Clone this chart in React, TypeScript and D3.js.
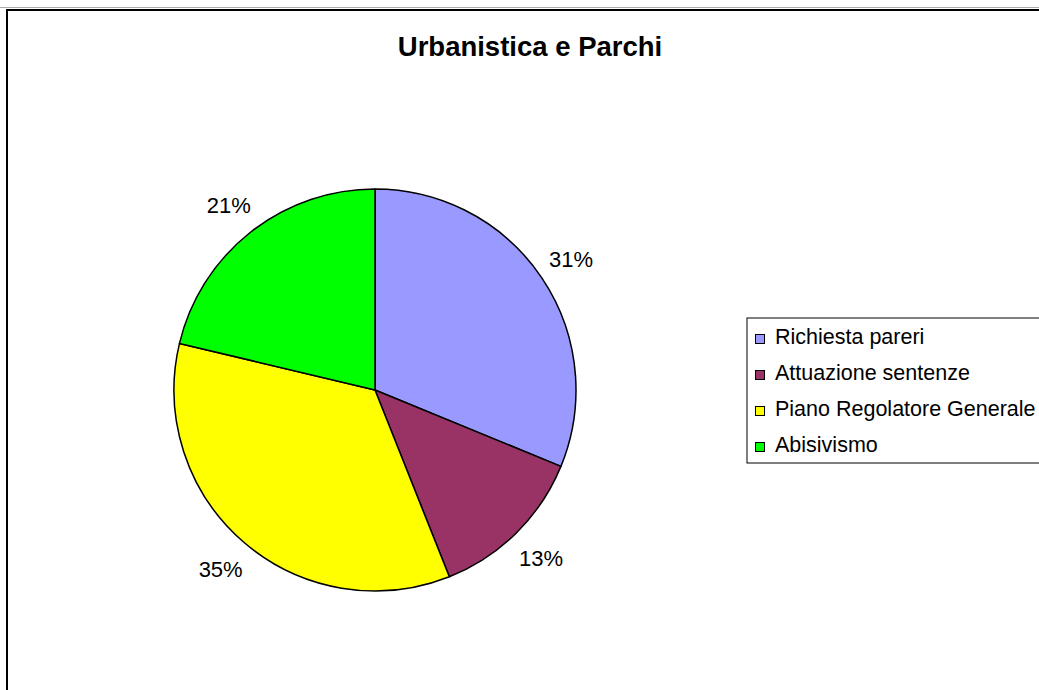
import React from "react";
import * as d3 from "d3";

const categories = ["Richiesta pareri", "Attuazione sentenze", "Piano Regolatore Generale", "Abisivismo"];
const values = [44, 18, 49, 30];
const colors = ["#9999FF", "#993366", "#FFFF00", "#00FF00"];
const title = "Urbanistica e Parchi";

export default function App() {
  const W = 1039, H = 690;
  const cx = 375, cy = 390, r = 201;
  const total = d3.sum(values);
  const pie = d3.pie<number>().sort(null).value((d) => d)(values);
  const arc = d3.arc<d3.PieArcDatum<number>>().innerRadius(0).outerRadius(r);
  const labelArc = d3.arc<d3.PieArcDatum<number>>().innerRadius(236).outerRadius(236);
  const font = "Liberation Sans, Arial, sans-serif";
  const legendX = 747, legendY = 318, rowH = 36;
  return (
    <svg width={W} height={H} style={{ position: "absolute", left: 0, top: 0, background: "#fff" }} fontFamily={font}>
      <line x1={0} x2={W} y1={7.5} y2={7.5} stroke="#aaa" strokeWidth={1} />
      <rect x={7} y={10} width={W + 20} height={H + 20} fill="#fff" stroke="#000" strokeWidth={2} />
      <text x={530} y={56} textAnchor="middle" fontSize={27.5} fontWeight="bold">{title}</text>
      <g transform={`translate(${cx},${cy})`}>
        {pie.map((p, i) => (
          <path key={i} d={arc(p) || ""} fill={colors[i]} stroke="#000" strokeWidth={1.5} strokeLinejoin="round" />
        ))}
        {pie.map((p, i) => {
          const [x, y] = labelArc.centroid(p);
          return (
            <text key={"l" + i} x={x} y={y + 8} textAnchor="middle" fontSize={22}>
              {Math.round((values[i] / total) * 100)}%
            </text>
          );
        })}
      </g>
      <rect x={legendX} y={legendY} width={400} height={145} fill="#fff" stroke="#000" strokeWidth={1} />
      {categories.map((c, i) => (
        <g key={c} transform={`translate(${legendX},${legendY + 26 + i * rowH})`}>
          <rect x={8.5} y={-9.5} width={9} height={9} fill={colors[i]} stroke="#000" strokeWidth={1} />
          <text x={28} y={0} fontSize={21.5}>{c}</text>
        </g>
      ))}
    </svg>
  );
}
